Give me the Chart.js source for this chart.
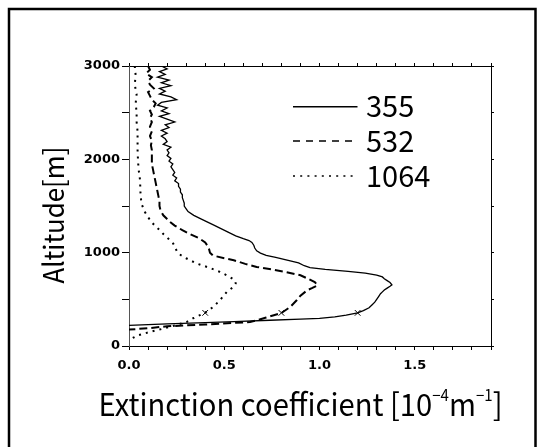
<!DOCTYPE html>
<html lang="en">
<head>
<meta charset="UTF-8">
<title>Extinction coefficient profile</title>
<style>
  body { margin: 0; background: #fff; }
  #wrap { width: 537px; height: 447px; position: relative; }
</style>
<script src="https://cdn.jsdelivr.net/npm/chart.js"></script>
</head>
<body>
<div id="wrap"><canvas id="profileChart"></canvas></div>
<script>
// altitude [m] and extinction coefficient [1e-4 /m]
const alt355 = [3000,2970,2940,2910,2880,2850,2820,2790,2760,2730,2700,2670,2640,2610,2580,2550,2520,2490,2460,2430,2400,2370,2340,2310,2280,2250,2220,2190,2160,2130,2100,2070,2040,2010,1980,1950,1920,1890,1860,1830,1800,1770,1740,1710,1680,1650,1620,1590,1560,1530,1500,1470,1440,1400,1360,1330,1300,1260,1220,1180,1150,1130,1110,1080,1050,1020,995,970,950,920,890,860,840,820,800,780,760,740,720,700,680,655,640,620,600,580,560,530,500,470,440,410,380,355,330,312,296,288,276,262,250,236,222];
const ext355 = [0.17,0.20,0.16,0.19,0.15,0.21,0.17,0.22,0.16,0.19,0.16,0.22,0.25,0.17,0.15,0.20,0.17,0.21,0.16,0.20,0.24,0.19,0.21,0.17,0.20,0.17,0.19,0.20,0.18,0.22,0.20,0.21,0.20,0.22,0.21,0.23,0.22,0.23,0.24,0.23,0.25,0.24,0.26,0.26,0.27,0.27,0.28,0.28,0.285,0.29,0.29,0.30,0.31,0.34,0.38,0.41,0.44,0.48,0.52,0.56,0.60,0.63,0.645,0.655,0.66,0.67,0.69,0.72,0.77,0.83,0.89,0.92,0.95,1.03,1.15,1.24,1.30,1.33,1.34,1.355,1.37,1.38,1.37,1.355,1.34,1.33,1.32,1.31,1.30,1.29,1.275,1.26,1.23,1.20,1.14,1.08,1.00,0.90,0.74,0.55,0.40,0.20,0.00];

const alt532 = [3000,2960,2920,2880,2840,2800,2760,2720,2680,2640,2600,2560,2520,2480,2440,2400,2350,2300,2250,2200,2150,2100,2050,2000,1950,1900,1850,1800,1750,1700,1650,1600,1550,1500,1456,1400,1360,1330,1290,1241,1200,1152,1110,1080,1040,1000,970,940,919,880,847,820,794,758,720,686,651,620,597,540,490,418,354,330,305,280,257,247,230,211,190,176];
const ext532 = [0.10,0.11,0.09,0.12,0.10,0.11,0.13,0.10,0.11,0.12,0.14,0.13,0.11,0.12,0.11,0.12,0.11,0.12,0.11,0.12,0.115,0.12,0.12,0.12,0.12,0.125,0.13,0.135,0.14,0.145,0.15,0.155,0.16,0.16,0.165,0.18,0.20,0.215,0.24,0.28,0.32,0.37,0.40,0.41,0.42,0.425,0.44,0.50,0.55,0.61,0.67,0.75,0.82,0.90,0.94,0.975,0.99,0.96,0.935,0.90,0.88,0.846,0.80,0.76,0.72,0.68,0.635,0.55,0.40,0.20,0.10,0.00];

const alt1064 = [3000,2900,2800,2700,2600,2500,2400,2300,2200,2100,2000,1900,1777,1650,1527,1437,1380,1330,1280,1241,1200,1169,1098,1040,991,940,884,840,794,750,705,670,633,579,490,418,358,300,257,204,150,115,79,60];
const ext1064 = [0.03,0.035,0.03,0.04,0.035,0.04,0.04,0.045,0.045,0.045,0.047,0.05,0.058,0.06,0.065,0.083,0.10,0.118,0.14,0.162,0.18,0.197,0.232,0.245,0.258,0.30,0.355,0.42,0.477,0.52,0.556,0.56,0.548,0.513,0.477,0.442,0.40,0.34,0.302,0.214,0.109,0.047,0.013,0.0];

// the three x marks
const markerAlt = [355, 355, 355];
const markerExt = [0.4, 0.8, 1.2];

const seriesLabels = ['355', '532', '1064'];
const xMajorTicks = [0, 0.5, 1.0, 1.5];
const yMajorTicks = [0, 1000, 2000, 3000];

function toPoints(xs, ys) {
    return ys.map((y, i) => ({ x: xs[i], y: y }));
}
function isMajor(list, v) {
    return list.some(m => Math.abs(m - v) < 1e-6);
}

const TEXT_FONT = "'Noto Sans CJK JP', 'Liberation Sans', sans-serif";
const TICK_FONT = { family: "'DejaVu Sans', sans-serif", size: 13, weight: 'bold' };

// white page and the outer frame line (left, top, right)
const framePlugin = {
    id: 'frame',
    beforeDraw(chart) {
        const ctx = chart.ctx;
        ctx.save();
        ctx.fillStyle = '#fff';
        ctx.fillRect(0, 0, chart.width, chart.height);
        ctx.strokeStyle = '#000';
        ctx.lineWidth = 2.5;
        ctx.beginPath();
        ctx.moveTo(9, chart.height + 2);
        ctx.lineTo(9, 9);
        ctx.lineTo(535.5, 9);
        ctx.lineTo(535.5, chart.height + 2);
        ctx.stroke();
        ctx.restore();
    }
};

// draws text pieces in one row, squeezed to a fixed width
function drawFitted(ctx, pieces, width) {
    let total = 0;
    pieces.forEach(p => {
        ctx.font = p.size + 'px ' + TEXT_FONT;
        p.w = ctx.measureText(p.t).width;
        total += p.w;
    });
    ctx.scale(width / total, 1);
    let x = 0;
    pieces.forEach(p => {
        ctx.font = p.size + 'px ' + TEXT_FONT;
        ctx.fillText(p.t, x, -(p.rise || 0));
        x += p.w;
    });
}

const labelsPlugin = {
    id: 'labels',
    afterDraw(chart) {
        const ctx = chart.ctx;
        ctx.save();
        ctx.fillStyle = '#000';
        ctx.textBaseline = 'alphabetic';
        ctx.textAlign = 'left';

        // legend inside the plot
        const lineY = [106.7, 141, 176];
        const textY = [117.3, 152.3, 187.3];
        const legendDash = [[], [7, 6], [2, 5.2]];
        chart.data.datasets.slice(0, 3).forEach((ds, i) => {
            ctx.save();
            ctx.strokeStyle = '#000';
            ctx.lineWidth = 1.4;
            ctx.setLineDash(legendDash[i]);
            ctx.beginPath();
            ctx.moveTo(293, lineY[i]);
            ctx.lineTo(357.5, lineY[i]);
            ctx.stroke();
            ctx.restore();
            ctx.font = '29px ' + TEXT_FONT;
            ctx.fillText(ds.label, 366, textY[i]);
        });

        // x title with superscripts
        ctx.save();
        ctx.translate(98.5, 415.5);
        drawFitted(ctx, [
            { t: 'Extinction coefficient [10', size: 31 },
            { t: '\u22124', size: 16, rise: 15 },
            { t: 'm', size: 31 },
            { t: '\u22121', size: 16, rise: 15 },
            { t: ']', size: 31 }
        ], 404);
        ctx.restore();

        // y title, rotated
        ctx.save();
        ctx.translate(64, 283.5);
        ctx.rotate(-Math.PI / 2);
        drawFitted(ctx, [{ t: 'Altitude[m]', size: 28 }], 137);
        ctx.restore();

        ctx.restore();
    }
};

const ctx = document.getElementById('profileChart').getContext('2d');
new Chart(ctx, {
    type: 'scatter',
    data: {
        datasets: [
            {
                label: seriesLabels[0],
                data: toPoints(ext355, alt355),
                showLine: true,
                borderColor: '#000',
                borderWidth: 1.3,
                pointRadius: 0,
                tension: 0
            },
            {
                label: seriesLabels[1],
                data: toPoints(ext532, alt532),
                showLine: true,
                borderColor: '#000',
                borderWidth: 2,
                borderDash: [8, 4],
                pointRadius: 0,
                tension: 0
            },
            {
                label: seriesLabels[2],
                data: toPoints(ext1064, alt1064),
                showLine: true,
                borderColor: '#000',
                borderWidth: 2,
                borderDash: [2, 5],
                pointRadius: 0,
                tension: 0
            },
            {
                label: 'marks',
                data: toPoints(markerExt, markerAlt),
                showLine: false,
                pointStyle: 'crossRot',
                pointRadius: 4,
                borderColor: '#000',
                borderWidth: 1
            }
        ]
    },
    options: {
        responsive: true,
        maintainAspectRatio: false,
        animation: false,
        layout: { padding: 0 },
        plugins: {
            legend: { display: false },
            tooltip: { enabled: false }
        },
        scales: {
            x: {
                type: 'linear',
                position: 'bottom',
                min: 0,
                max: 1.9,
                afterFit: s => { s.height = 101; },
                border: { color: '#000', width: 1 },
                grid: { drawOnChartArea: false, color: '#000', tickLength: 4 },
                ticks: {
                    stepSize: 0.1,
                    maxTicksLimit: 100,
                    autoSkip: false,
                    maxRotation: 0,
                    padding: 8,
                    color: '#000',
                    font: TICK_FONT,
                    callback: v => isMajor(xMajorTicks, v) ? v.toFixed(1) : ''
                }
            },
            xTop: {
                type: 'linear',
                position: 'top',
                min: 0,
                max: 1.9,
                afterFit: s => { s.height = 66; },
                border: { color: '#000', width: 1 },
                grid: { drawOnChartArea: false, color: '#000', tickLength: 3 },
                ticks: {
                    stepSize: 0.1,
                    maxTicksLimit: 100,
                    autoSkip: false,
                    font: { size: 1 },
                    callback: () => ''
                }
            },
            y: {
                type: 'linear',
                position: 'left',
                min: 0,
                max: 3000,
                afterFit: s => { s.width = 129; },
                border: { color: '#555', width: 1 },
                grid: { drawOnChartArea: false, color: '#000', tickLength: 7 },
                ticks: {
                    stepSize: 500,
                    autoSkip: false,
                    padding: 2,
                    color: '#000',
                    font: TICK_FONT,
                    callback: v => isMajor(yMajorTicks, v) ? String(v) : ''
                }
            },
            yRight: {
                type: 'linear',
                position: 'right',
                min: 0,
                max: 3000,
                afterFit: s => { s.width = 46; },
                border: { color: '#000', width: 1 },
                grid: { drawOnChartArea: false, color: '#000', tickLength: 3 },
                ticks: {
                    stepSize: 500,
                    autoSkip: false,
                    font: { size: 1 },
                    callback: () => ''
                }
            }
        }
    },
    plugins: [framePlugin, labelsPlugin]
});
</script>
</body>
</html>
